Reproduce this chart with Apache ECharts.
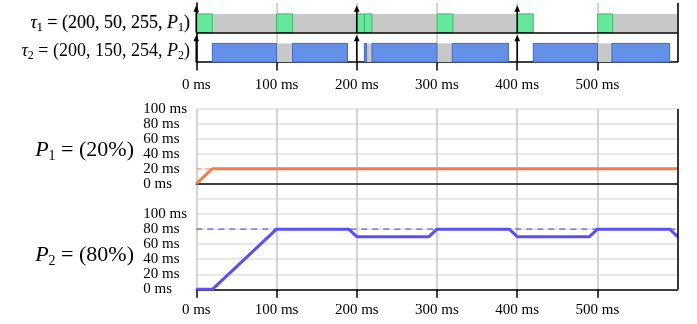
<!DOCTYPE html>
<html>
<head>
<meta charset="utf-8">
<script src="https://cdn.jsdelivr.net/npm/echarts@6/dist/echarts.min.js"></script>
<style>
  html, body { margin: 0; padding: 0; background: #fff; }
  #chart { width: 697px; height: 324px; }
</style>
</head>
<body>
<div id="chart"></div>
<script>
// ---- schedule data (ms) ----
const timeTicks = [0, 100, 200, 300, 400, 500, 600];
const releases = [0, 200, 400];

// task 1 (row 1): executing on P1 / waiting
const tau1Run  = [[0, 20], [100, 120], [200, 209.5], [209.5, 219], [300, 320], [400, 420], [500, 519]];
const tau1Wait = [[20, 100], [120, 200], [219, 300], [320, 400], [519, 600]];
// task 2 (row 0): executing on P2 / waiting
const tau2Run  = [[20, 100], [120, 188.5], [209.5, 212], [219, 300], [319, 389], [420, 500], [518, 590]];
const tau2Wait = [[100, 120], [212, 219], [300, 319], [500, 518]];

// server budgets over time
const p1Budget = [[0, 0], [20, 20], [600, 20]];
const p1Capacity = 20;
const p2Budget = [[0, 0], [20, 0], [100, 80], [190, 80], [200, 70], [290, 70], [300, 80],
                  [390, 80], [400, 70], [490, 70], [500, 80], [590, 80], [600, 70]];
const p2Capacity = 80;

const budgetTicks = [0, 20, 40, 60, 80, 100];

// ---- styling ----
const FONT = '"Liberation Serif", "DejaVu Serif", serif';
const GREEN = '#66e89a', GREEN_EDGE = '#44b772';
const BLUE = '#6590e8', BLUE_EDGE = '#4467b8';
const GRAY = '#c8c8c8';
const VGRID = '#c6c6c6', HGRID = '#e2e2e2';

function segItems(list, row, kind) {
  return list.map(s => [s[0], s[1], row, kind]);
}
const ganttData = [].concat(
  segItems(tau1Wait, 1, 0), segItems(tau2Wait, 0, 0),
  segItems(tau1Run, 1, 1), segItems(tau2Run, 0, 2)
);
const arrowData = [];
releases.forEach(t => { arrowData.push([t, 1]); arrowData.push([t, 0]); });

function renderSeg(params, api) {
  const s = api.value(0), e = api.value(1), row = api.value(2), kind = api.value(3);
  const a = api.coord([s, row]);
  const b = api.coord([e, row]);
  const h = api.size([0, 0.63])[1];
  const fill = kind === 0 ? GRAY : (kind === 1 ? GREEN : BLUE);
  const edge = kind === 0 ? null : (kind === 1 ? GREEN_EDGE : BLUE_EDGE);
  return {
    type: 'rect',
    shape: { x: a[0], y: a[1] - h, width: b[0] - a[0], height: h },
    style: { fill: fill, stroke: edge, lineWidth: edge ? 1 : 0 }
  };
}

function renderArrow(params, api) {
  const t = api.value(0), row = api.value(1);
  const base = api.coord([t, row]);
  const len = api.size([0, 0.92])[1];
  const tipY = base[1] - len;
  return {
    type: 'group',
    children: [
      { type: 'line', shape: { x1: base[0], y1: base[1], x2: base[0], y2: tipY + 4 },
        style: { stroke: '#000', lineWidth: 1.6 } },
      { type: 'polygon', shape: { points: [[base[0], tipY], [base[0] - 2.8, tipY + 6.5], [base[0] + 2.8, tipY + 6.5]] },
        style: { fill: '#000' } }
    ]
  };
}

const GL = 196.3, GR = 19.3;
const chart = echarts.init(document.getElementById('chart'), null, { renderer: 'canvas' });

const borderLine = (axisKey, value) => ({
  silent: true, symbol: 'none', animation: false,
  label: { show: false },
  lineStyle: { color: '#000', width: 1.5, type: 'solid' },
  data: [{ [axisKey]: value }]
});

function timeAxis(gridIndex, showLabels, margin) {
  return {
    type: 'value', gridIndex: gridIndex, min: 0, max: 600, interval: 100,
    axisLine: { show: true, lineStyle: { color: '#000', width: 1.5 } },
    axisTick: { show: showLabels, length: 8.5, lineStyle: { color: '#000', width: 1.5 } },
    axisLabel: {
      show: showLabels, margin: margin, fontFamily: FONT, fontSize: 15, color: '#000',
      showMinLabel: true, showMaxLabel: false,
      formatter: v => v + ' ms'
    },
    splitLine: { show: true, lineStyle: { color: VGRID, width: 1.5 } }
  };
}

function budgetAxis(gridIndex, max) {
  const n = max / 20 + 1;
  const colors = [];
  for (let i = 0; i < n; i++) colors.push(i <= 5 ? HGRID : 'rgba(0,0,0,0)');
  return {
    type: 'value', gridIndex: gridIndex, min: 0, max: max, interval: 20,
    axisLine: { show: false }, axisTick: { show: false },
    axisLabel: {
      margin: 53, align: 'left', fontFamily: FONT, fontSize: 15, color: '#000',
      formatter: v => (budgetTicks.indexOf(v) >= 0 ? v + ' ms' : '')
    },
    splitLine: { show: true, showMinLine: false, lineStyle: { color: colors, width: 1.5 } }
  };
}

const richTau = {
  i: { fontFamily: FONT, fontStyle: 'italic', fontSize: 18, lineHeight: 22 },
  n: { fontFamily: FONT, fontSize: 18, lineHeight: 22 },
  s: { fontFamily: FONT, fontSize: 12, lineHeight: 12, verticalAlign: 'bottom' }
};
const richP = {
  i: { fontFamily: FONT, fontStyle: 'italic', fontSize: 22, lineHeight: 26 },
  n: { fontFamily: FONT, fontSize: 22, lineHeight: 26 },
  s: { fontFamily: FONT, fontSize: 14, lineHeight: 14, verticalAlign: 'bottom' }
};

const option = {
  animation: false,
  backgroundColor: '#fff',
  grid: [
    { left: GL, right: GR, top: 3, height: 59, containLabel: false, outerBoundsMode: 'none' },
    { left: GL, right: GR, top: 109, height: 74.7, containLabel: false, outerBoundsMode: 'none' },
    { left: GL, right: GR, top: 184, height: 105.3, containLabel: false, outerBoundsMode: 'none' }
  ],
  xAxis: [timeAxis(0, true, 15.5), timeAxis(1, false, 0), timeAxis(2, true, 13.5)],
  yAxis: [
    { type: 'value', gridIndex: 0, min: 0, max: 2, interval: 1,
      axisLine: { show: true, lineStyle: { color: '#000', width: 1.5 } },
      axisTick: { show: false }, axisLabel: { show: false }, splitLine: { show: false } },
    budgetAxis(1, 100),
    budgetAxis(2, 140)
  ],
  series: [
    { type: 'custom', xAxisIndex: 0, yAxisIndex: 0, renderItem: renderSeg, data: ganttData,
      encode: { x: [0, 1], y: 2 }, z: 2,
      markLine: borderLine('yAxis', 1) },
    { type: 'custom', xAxisIndex: 0, yAxisIndex: 0, renderItem: renderArrow, data: arrowData,
      encode: { x: 0, y: 1 }, z: 5,
      markLine: borderLine('xAxis', 600) },
    // P1 budget
    { type: 'line', xAxisIndex: 1, yAxisIndex: 1, silent: true, showSymbol: false,
      data: [[0, p1Capacity], [600, p1Capacity]],
      lineStyle: { color: '#ffab8a', width: 1.3, type: [5, 4] }, z: 3 },
    { type: 'line', xAxisIndex: 1, yAxisIndex: 1, silent: true, showSymbol: false,
      data: p1Budget, lineStyle: { color: '#fb7a4c', width: 3 }, z: 4,
      markLine: borderLine('xAxis', 600) },
    // P2 budget
    { type: 'line', xAxisIndex: 2, yAxisIndex: 2, silent: true, showSymbol: false,
      data: [[0, p2Capacity], [600, p2Capacity]],
      lineStyle: { color: '#6060f0', width: 1.3, type: [6, 5] }, z: 3 },
    { type: 'line', xAxisIndex: 2, yAxisIndex: 2, silent: true, showSymbol: false,
      data: p2Budget, lineStyle: { color: '#5a4ff6', width: 3 }, z: 4,
      markLine: borderLine('xAxis', 600) }
  ],
  graphic: [
    { type: 'text', z: 10, style: {
        x: 190, y: 23, align: 'right', verticalAlign: 'middle',
        text: '{i|τ}{s|1}{n| = (200, 50, 255, }{i|P}{s|1}{n|)}', rich: richTau } },
    { type: 'text', z: 10, style: {
        x: 190, y: 51, align: 'right', verticalAlign: 'middle',
        text: '{i|τ}{s|2}{n| = (200, 150, 254, }{i|P}{s|2}{n|)}', rich: richTau } },
    { type: 'text', z: 10, style: {
        x: 134, y: 150, align: 'right', verticalAlign: 'middle',
        text: '{i|P}{s|1}{n| = (20%)}', rich: richP } },
    { type: 'text', z: 10, style: {
        x: 134, y: 255, align: 'right', verticalAlign: 'middle',
        text: '{i|P}{s|2}{n| = (80%)}', rich: richP } }
  ]
};

chart.setOption(option);

// faint zero-time guide joining the schedule rows to the budget plots
const top0 = chart.convertToPixel({ gridIndex: 0 }, [0, 0]);
const top1 = chart.convertToPixel({ gridIndex: 1 }, [0, 100]);
chart.setOption({
  graphic: [{ type: 'line', z: -1, silent: true,
    shape: { x1: top0[0], y1: top0[1] + 1, x2: top1[0], y2: top1[1] },
    style: { stroke: '#d8d8d8', lineWidth: 1 } }]
});
</script>
</body>
</html>
